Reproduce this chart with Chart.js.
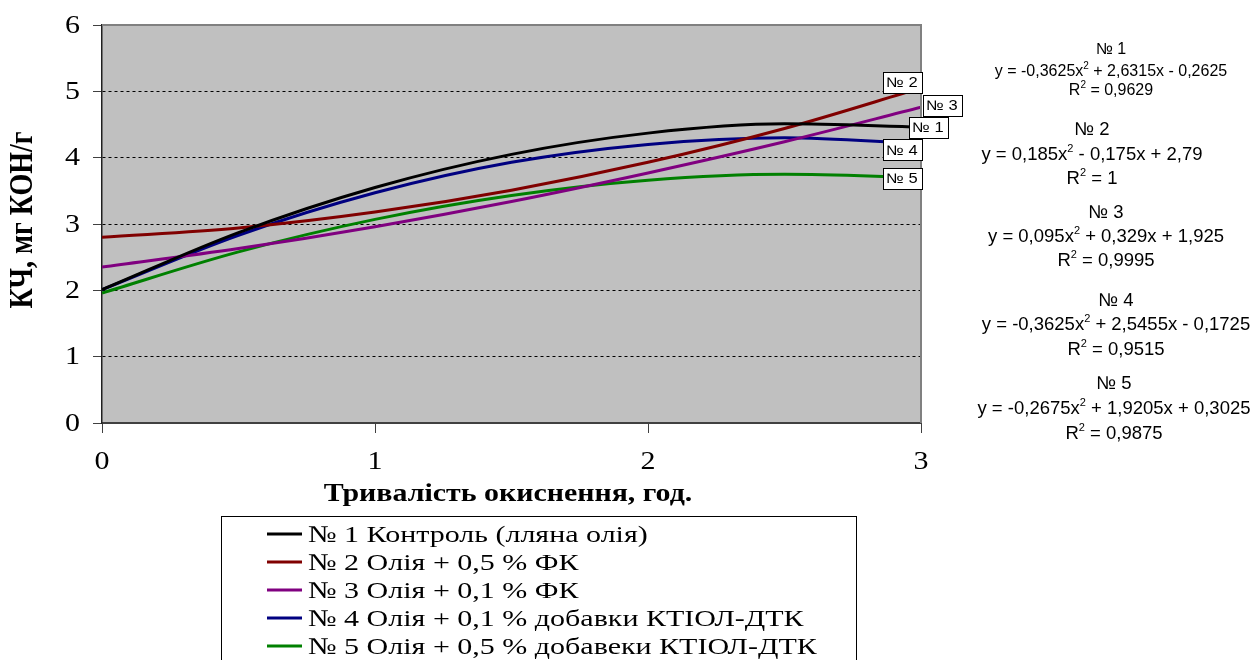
<!DOCTYPE html>
<html>
<head>
<meta charset="utf-8">
<script src="https://cdn.jsdelivr.net/npm/chart.js@4.4.1/dist/chart.umd.min.js"></script>
<style>
  html, body { margin: 0; padding: 0; background: #fff; overflow: hidden; }
  #wrap { position: relative; width: 1256px; height: 660px; }
</style>
</head>
<body>
<div id="wrap"><canvas id="c" width="1256" height="660"></canvas></div>
<script>
// oxidation time, h (x values)
const hours = [0, 0.5, 1, 1.5, 2, 2.5, 3];
// acid number, mg KOH/g
const kch1 = [2.01, 2.87, 3.55, 4.05, 4.37, 4.51, 4.46];
const kch2 = [2.80, 2.94, 3.18, 3.51, 3.93, 4.44, 5.05];
const kch3 = [2.35, 2.63, 2.96, 3.34, 3.77, 4.24, 4.76];
const kch4 = [2.01, 2.83, 3.47, 3.93, 4.20, 4.30, 4.21];
const kch5 = [1.96, 2.58, 3.07, 3.43, 3.66, 3.75, 3.70];

const seriesNames = [
  "№ 1 Контроль (лляна олія)",
  "№ 2 Олія + 0,5 % ФК",
  "№ 3 Олія + 0,1 % ФК",
  "№ 4 Олія + 0,1 % добавки КТІОЛ-ДТК",
  "№ 5 Олія + 0,5 % добавеки КТІОЛ-ДТК"
];
const curveTags = ["№ 1", "№ 2", "№ 3", "№ 4", "№ 5"];
const seriesColors = ["#000000", "#800000", "#800080", "#000080", "#008000"];
const yTicks = [0, 1, 2, 3, 4, 5, 6];
const xTicks = [0, 1, 2, 3];

const trendText = [
  ["№ 1", "y = -0,3625x^2 + 2,6315x - 0,2625", "R^2 = 0,9629"],
  ["№ 2", "y = 0,185x^2 - 0,175x + 2,79", "R^2 = 1"],
  ["№ 3", "y = 0,095x^2 + 0,329x + 1,925", "R^2 = 0,9995"],
  ["№ 4", "y = -0,3625x^2 + 2,5455x - 0,1725", "R^2 = 0,9515"],
  ["№ 5", "y = -0,2675x^2 + 1,9205x + 0,3025", "R^2 = 0,9875"]
];
const xTitle = "Тривалість окиснення, год.";
const yTitle = "КЧ, мг КОН/г";

(function () {
  const SERIF = '"Liberation Serif", "Times New Roman", serif';
  const SANS = '"Liberation Sans", Arial, sans-serif';

  function pts(ys) { return ys.map((y, i) => ({ x: hours[i], y: y })); }
  const allSeries = [kch1, kch2, kch3, kch4, kch5];

  const datasets = allSeries.map((s, i) => ({
    label: seriesNames[i],
    data: pts(s),
    borderColor: seriesColors[i],
    backgroundColor: seriesColors[i],
    borderWidth: 3,
    pointRadius: 0,
    fill: false,
    cubicInterpolationMode: "monotone"
  }));

  // the original picture is a little wider than tall, so serif text gets stretched
  function wideText(ctx, text, x, y, sx, align) {
    ctx.save();
    ctx.translate(x, y);
    ctx.scale(sx, 1);
    ctx.textAlign = align;
    ctx.fillText(text, 0, 0);
    ctx.restore();
  }

  // text with "^2" superscripts, centred on cx
  function supText(ctx, str, cx, cy, size) {
    const parts = str.split("^2");
    const big = size + "px " + SANS, small = Math.round(size * 0.62) + "px " + SANS;
    ctx.font = small; const sw = ctx.measureText("2").width;
    ctx.font = big;
    let total = 0;
    parts.forEach(p => total += ctx.measureText(p).width);
    total += sw * (parts.length - 1);
    let x = cx - total / 2;
    const base = cy + size * 0.36;
    ctx.textAlign = "left"; ctx.textBaseline = "alphabetic";
    parts.forEach((p, i) => {
      ctx.font = big;
      ctx.fillText(p, x, base);
      x += ctx.measureText(p).width;
      if (i < parts.length - 1) {
        ctx.font = small;
        ctx.fillText("2", x, base - size * 0.42);
        x += sw;
      }
    });
  }

  const decor = {
    id: "decor",
    beforeDraw(chart) {
      const { ctx, chartArea: a } = chart;
      ctx.save();
      ctx.fillStyle = "#C0C0C0";
      ctx.fillRect(a.left, a.top, a.right - a.left, a.bottom - a.top);
      ctx.restore();
    },
    afterDatasetsDraw(chart) {
      const { ctx, chartArea: a, scales } = chart;
      ctx.save();
      // top / right frame
      ctx.strokeStyle = "#808080"; ctx.lineWidth = 2;
      ctx.beginPath();
      ctx.moveTo(a.left, a.top); ctx.lineTo(a.right, a.top); ctx.lineTo(a.right, a.bottom);
      ctx.stroke();

      // curve tags at the right end of each curve
      const nudge = [[7, 0], [-19, -6], [21, -2], [-19, 6], [-19, 1]];
      ctx.font = "14px " + SANS;
      allSeries.forEach((s, i) => {
        const cx = scales.x.getPixelForValue(hours[hours.length - 1]) + nudge[i][0];
        const cy = scales.y.getPixelForValue(s[s.length - 1]) + nudge[i][1];
        const w = 39, h = 21;
        ctx.fillStyle = "#fff";
        ctx.fillRect(Math.round(cx - w / 2) + 0.5, Math.round(cy - h / 2) + 0.5, w, h);
        ctx.strokeStyle = "#000"; ctx.lineWidth = 1;
        ctx.strokeRect(Math.round(cx - w / 2) + 0.5, Math.round(cy - h / 2) + 0.5, w, h);
        ctx.fillStyle = "#000"; ctx.textBaseline = "middle";
        wideText(ctx, curveTags[i], cx, cy + 1, 1.18, "center");
      });
      ctx.restore();
    },
    afterDraw(chart) {
      const { ctx, scales } = chart;
      ctx.save();
      ctx.fillStyle = "#000";

      // tick labels
      ctx.font = "25px " + SERIF;
      ctx.textBaseline = "middle";
      yTicks.forEach(v => wideText(ctx, String(v), 80, scales.y.getPixelForValue(v) + 1, 1.2, "right"));
      xTicks.forEach(v => wideText(ctx, String(v), scales.x.getPixelForValue(v), 462, 1.2, "center"));

      // axis titles
      ctx.font = "bold 26px " + SERIF;
      wideText(ctx, xTitle, 508, 494, 1.15, "center");
      ctx.save();
      ctx.translate(23, 220); ctx.rotate(-Math.PI / 2); ctx.scale(1, 1.2);
      ctx.font = "bold 28px " + SERIF;
      ctx.textAlign = "center";
      ctx.fillText(yTitle, 0, 0);
      ctx.restore();

      // trend equations
      const blocks = [
        { cx: 1111, ys: [48, 70, 89], size: 16 },
        { cx: 1092, ys: [128, 153, 177], size: 18.5 },
        { cx: 1106, ys: [211, 235, 259], size: 18.5 },
        { cx: 1116, ys: [299, 323, 348], size: 18.5 },
        { cx: 1114, ys: [382, 407, 432], size: 18.5 }
      ];
      trendText.forEach((lines, i) => {
        const b = blocks[i];
        lines.forEach((t, j) => supText(ctx, t, b.cx, b.ys[j], b.size));
      });

      // legend (box runs past the bottom edge)
      ctx.strokeStyle = "#000"; ctx.lineWidth = 1;
      ctx.strokeRect(221.5, 516.5, 635, 200);
      ctx.font = "24px " + SERIF;
      ctx.textBaseline = "middle";
      chart.data.datasets.forEach((d, i) => {
        const y = 534 + i * 28;
        ctx.strokeStyle = d.borderColor; ctx.lineWidth = 3;
        ctx.beginPath(); ctx.moveTo(267, y); ctx.lineTo(302, y); ctx.stroke();
        ctx.fillStyle = "#000";
        wideText(ctx, d.label, 308, y + 2, 1.25, "left");
      });
      ctx.restore();
    }
  };

  new Chart(document.getElementById("c"), {
    type: "line",
    data: { datasets: datasets },
    options: {
      responsive: false,
      animation: false,
      devicePixelRatio: 1,
      layout: { padding: { left: 0, top: 25, right: 335, bottom: 0 } },
      plugins: { legend: { display: false }, tooltip: { enabled: false } },
      scales: {
        x: {
          type: "linear", min: 0, max: 3,
          afterBuildTicks: s => { s.ticks = xTicks.map(v => ({ value: v })); },
          afterFit: s => { s.height = 237; },
          grid: { drawOnChartArea: false, drawTicks: true, tickLength: 10, tickColor: "#404040", tickWidth: 1 },
          border: { display: true, color: "#404040", width: 2 },
          ticks: { display: false }
        },
        y: {
          min: 0, max: 6,
          afterBuildTicks: s => { s.ticks = yTicks.map(v => ({ value: v })); },
          afterFit: s => { s.width = 102; },
          grid: {
            color: c => (c.tick && c.tick.value > 0 && c.tick.value < 6) ? "#000" : "rgba(0,0,0,0)",
            lineWidth: 1, drawTicks: true, tickLength: 9, tickColor: "#404040", tickWidth: 1, tickBorderDash: []
          },
          border: { display: true, color: "#202020", width: 1.5, dash: [3, 3] },
          ticks: { display: false }
        }
      }
    },
    plugins: [decor]
  });
})();
</script>
</body>
</html>
